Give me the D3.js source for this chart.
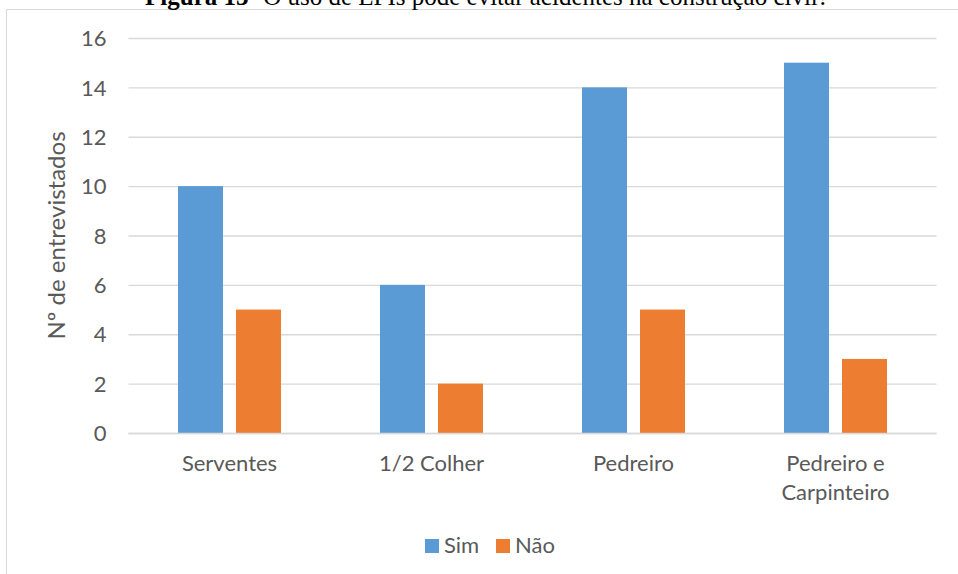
<!DOCTYPE html>
<html>
<head>
<meta charset="utf-8">
<script src="https://cdn.jsdelivr.net/npm/d3@7"></script>
<style>
  html, body { margin: 0; padding: 0; background: #fff; }
  svg { display: block; }
</style>
</head>
<body>
<svg id="chart" width="958" height="574"></svg>
<script>
// Survey answers per occupation
const categories = ["Serventes", "1/2 Colher", "Pedreiro", "Pedreiro e Carpinteiro"];
const seriesNames = ["Sim", "Não"];
const simValues = [10, 6, 14, 15];
const naoValues = [5, 2, 5, 3];
const yTicks = [0, 2, 4, 6, 8, 10, 12, 14, 16];

const colors = { "Sim": "#5B9BD5", "Não": "#ED7D31" };
const textColor = "#595959";
const gridColor = "#D9D9D9";
const labelFont = "Lato, 'Open Sans', sans-serif";

const svg = d3.select("#chart");

// Chart frame
svg.append("path")
  .attr("d", "M6.5,574 V9.5 H958")
  .attr("fill", "none")
  .attr("stroke", gridColor)
  .attr("stroke-width", 1);

// Caption
const cap = svg.append("text")
  .attr("x", 487)
  .attr("y", 5)
  .attr("text-anchor", "middle")
  .attr("font-family", "'Liberation Serif', 'Times New Roman', serif")
  .attr("font-size", 25)
  .attr("fill", "#000");
cap.append("tspan").attr("font-weight", "bold").text("Figura 13-");
cap.append("tspan").text(" O uso de EPIs pode evitar acidentes na construção civil?");

const plot = { left: 128.5, right: 936.5, top: 38, bottom: 433 };

const y = d3.scaleLinear().domain([0, 16]).range([plot.bottom, plot.top]);
const x0 = d3.scaleBand().domain(categories).range([plot.left, plot.right]).padding(0);
const groupW = 103;
const x1 = d3.scaleBand().domain(seriesNames)
  .range([(x0.bandwidth() - groupW) / 2, (x0.bandwidth() + groupW) / 2])
  .paddingInner(0.224).paddingOuter(0);

// Horizontal gridlines and y labels
const yAxis = d3.axisLeft(y).tickValues(yTicks)
  .tickSize(-(plot.right - plot.left)).tickPadding(22);
const gy = svg.append("g")
  .attr("transform", `translate(${plot.left},0)`)
  .call(yAxis);
gy.select(".domain").remove();
gy.selectAll(".tick line").attr("stroke", gridColor).attr("stroke-width", 1.3);
gy.selectAll(".tick text")
  .attr("fill", textColor)
  .attr("font-family", labelFont)
  .attr("font-size", 22)
  .attr("dy", "0.35em");

// Bars
const rows = categories.map((c, i) => ({ cat: c, values: [
  { key: "Sim", value: simValues[i] },
  { key: "Não", value: naoValues[i] }
]}));

const groups = svg.append("g").selectAll("g")
  .data(rows).join("g")
  .attr("transform", d => `translate(${x0(d.cat)},0)`);

groups.selectAll("rect")
  .data(d => d.values).join("rect")
  .attr("x", d => x1(d.key))
  .attr("width", x1.bandwidth())
  .attr("y", d => y(d.value))
  .attr("height", d => y(0) - y(d.value))
  .attr("fill", d => colors[d.key]);

// Category axis
svg.append("line")
  .attr("x1", plot.left).attr("x2", plot.right)
  .attr("y1", plot.bottom + 0.5).attr("y2", plot.bottom + 0.5)
  .attr("stroke", gridColor).attr("stroke-width", 1.3);

const xLabelLines = {
  "Serventes": ["Serventes"],
  "1/2 Colher": ["1/2 Colher"],
  "Pedreiro": ["Pedreiro"],
  "Pedreiro e Carpinteiro": ["Pedreiro e", "Carpinteiro"]
};
const xl = svg.append("g").selectAll("text")
  .data(categories).join("text")
  .attr("x", d => x0(d) + x0.bandwidth() / 2)
  .attr("y", 471)
  .attr("text-anchor", "middle")
  .attr("fill", textColor)
  .attr("font-family", labelFont)
  .attr("font-size", 22);
xl.selectAll("tspan")
  .data(d => xLabelLines[d]).join("tspan")
  .attr("x", function() { return d3.select(this.parentNode).attr("x"); })
  .attr("dy", (d, i) => i === 0 ? 0 : 29)
  .text(d => d);

// Y axis title
svg.append("text")
  .attr("transform", `translate(65,${(plot.top + plot.bottom) / 2}) rotate(-90)`)
  .attr("text-anchor", "middle")
  .attr("fill", textColor)
  .attr("font-family", labelFont)
  .attr("font-size", 24)
  .text("Nº de entrevistados");

// Legend
const legend = svg.append("g").attr("transform", "translate(425,539)");
const legendX = [0, 71];
seriesNames.forEach((s, i) => {
  const g = legend.append("g").attr("transform", `translate(${legendX[i]},0)`);
  g.append("rect").attr("width", 14).attr("height", 14).attr("fill", colors[s]);
  g.append("text")
    .attr("x", 19).attr("y", 14)
    .attr("fill", textColor)
    .attr("font-family", labelFont)
    .attr("font-size", 22)
    .text(s);
});
</script>
</body>
</html>
